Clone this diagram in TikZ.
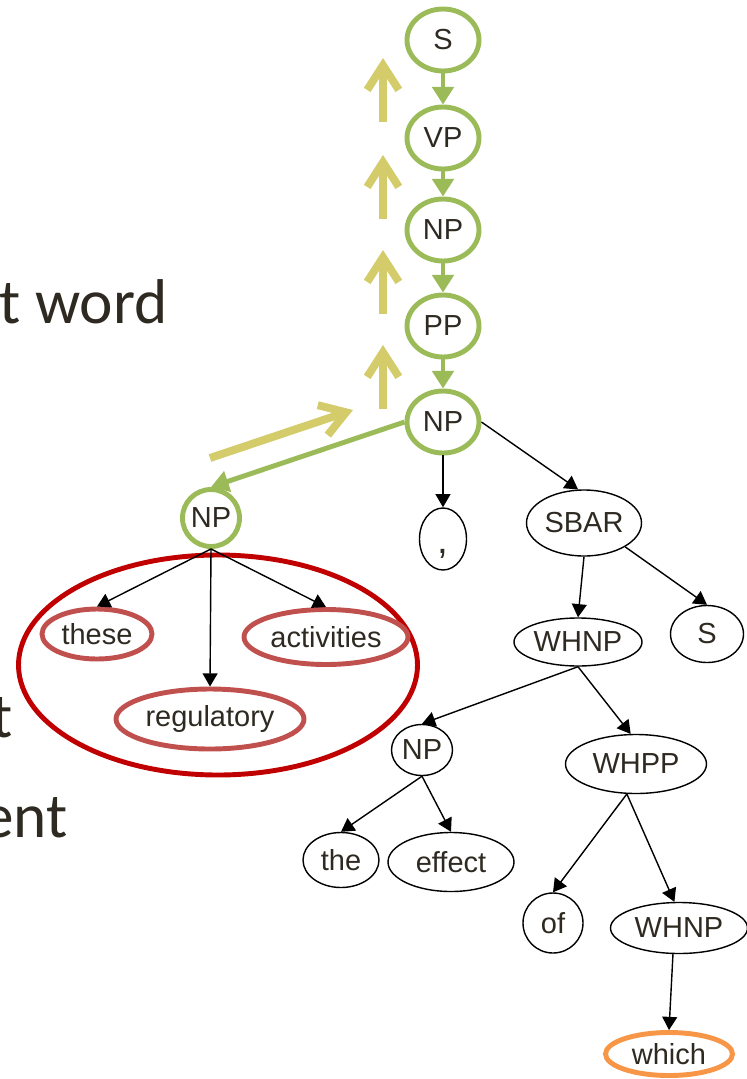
\documentclass[tikz,border=0pt]{standalone}
\usepackage{fontspec}
\setmainfont{Liberation Sans}
\newfontfamily\slidefont{Carlito}
\usetikzlibrary{arrows.meta,shapes.geometric}

\definecolor{grn}{RGB}{155,187,89}
\definecolor{ylw}{RGB}{212,204,106}
\definecolor{darkred}{RGB}{192,0,0}
\definecolor{softred}{RGB}{192,80,77}
\definecolor{orng}{RGB}{247,150,70}
\definecolor{ink}{RGB}{46,42,34}

\tikzset{
    ell/.style 2 args={ellipse, inner sep=0pt, minimum width=#1*0.02cm,
        minimum height=#2*0.02cm, text=ink, font=\fontsize{16.5}{18}\selectfont},
    plain/.style={draw=black, line width=0.8pt},
    grnring/.style={draw=grn, line width=2.8pt},
    redring/.style={draw=softred, line width=2.8pt},
    orgring/.style={draw=orng, line width=2.8pt},
    bigring/.style={ellipse, draw=darkred, line width=2.8pt, inner sep=0pt,
        minimum width=399*0.02cm, minimum height=220*0.02cm},
    tree/.style={draw=black, line width=0.8pt, -{Triangle[length=7.5pt,width=8.5pt]}},
    chain/.style={draw=grn, line width=2.8pt, -{Triangle[length=10pt,width=12pt]}},
    hint/.style={draw=ylw, line width=4.5pt, -{Straight Barb[length=14pt,width=18pt]}},
    slide/.style={font=\slidefont\fontsize{36}{40}\selectfont, text=ink, inner sep=0pt}
}

\begin{document}
\begin{tikzpicture}[x=0.02cm, y=-0.02cm]
    \useasboundingbox ({0}, {0}) rectangle ({747}, {1079});

    % Slide text behind the tree
    \node[slide, anchor=base east] (l1) at ({168}, {323}) {t word};
    \node[slide, anchor=base east] (l2) at ({13}, {737}) {t};
    \node[slide, anchor=base east] (l3) at ({68}, {837}) {ent};

    % Group round the chosen phrase
    \node[bigring] (grp) at ({218}, {665}) {};

    % Green path from the root
    \node[ell={72}{62}, grnring] (s) at ({443}, {40}) {S};
    \node[ell={72}{62}, grnring] (vp) at ({443}, {138}) {VP};
    \node[ell={72}{62}, grnring] (npb) at ({443}, {230}) {NP};
    \node[ell={72}{62}, grnring] (pp) at ({443}, {326}) {PP};
    \node[ell={72}{62}, grnring] (npa) at ({443}, {422}) {NP};
    \node[ell={57}{57}, grnring] (npc) at ({211}, {518}) {NP};

    % Words of the phrase
    \node[ell={110}{50}, redring] (these) at ({97}, {634}) {these};
    \node[ell={164}{55}, redring] (act) at ({326}, {637}) {activities};
    \node[ell={188}{60}, redring] (reg) at ({210}, {719}) {regulatory};

    % Rest of the tree
    \node[ell={47}{62}, plain] (comma) at ({443}, {539})
        {\fontsize{22}{24}\selectfont\raisebox{-8pt}[0pt][0pt]{,}};
    \node[ell={115}{66}, plain] (sbar) at ({584}, {523}) {SBAR};
    \node[ell={73}{57}, plain] (sr) at ({707}, {634}) {S};
    \node[ell={128}{48}, plain] (whnp) at ({578}, {642}) {WHNP};
    \node[ell={61}{51}, plain] (npd) at ({422}, {750}) {NP};
    \node[ell={141}{59}, plain] (whpp) at ({636}, {764}) {WHPP};
    \node[ell={76}{55}, plain] (the) at ({341}, {860}) {the};
    \node[ell={126}{59}, plain] (effect) at ({451}, {862}) {effect};
    \node[ell={60}{60}, plain] (of) at ({553}, {923}) {of};
    \node[ell={137}{51}, plain] (whnpb) at ({679}, {928}) {WHNP};
    \node[ell={127}{43}, orgring] (which) at ({669}, {1054}) {which};

    % Green arrows
    \draw[chain] (s.south) to (vp.north);
    \draw[chain] (vp.south) to (npb.north);
    \draw[chain] (npb.south) to (pp.north);
    \draw[chain] (pp.south) to (npa.north);
    \draw[chain] (npa.west) to (npc.north);

    % Yellow hints
    \foreach \i/\y in {1/58, 2/155, 3/250, 4/345} {
        \coordinate (up\i a) at ({383}, {\y+64});
        \coordinate (up\i b) at ({383}, {\y});
        \draw[hint] (up\i a) to (up\i b);
    }
    \coordinate (dga) at ({210}, {458});
    \coordinate (dgb) at ({353}, {410});
    \draw[hint] (dga) to (dgb);

    % Black arrows
    \draw[tree] (npc.south) to (these.north);
    \draw[tree] (npc.south) to (reg.north);
    \draw[tree] (npc.south) to (act.north);
    \draw[tree] (npa.south) to (comma.north);
    \draw[tree] (npa.east) to (sbar.100);
    \draw[tree] (sbar.south) to (whnp.north);
    \draw[tree] (sbar.south east) to (sr.north);
    \draw[tree] (whnp.south) to (npd.north);
    \draw[tree] (whnp.south) to (whpp.100);
    \draw[tree] (npd.south) to (the.north);
    \draw[tree] (npd.south) to (effect.north);
    \draw[tree] (whpp.253) to (of.north);
    \draw[tree] (whpp.253) to (whnpb.100);
    \draw[tree] (whnpb.257) to (which.north);
\end{tikzpicture}
\end{document}
